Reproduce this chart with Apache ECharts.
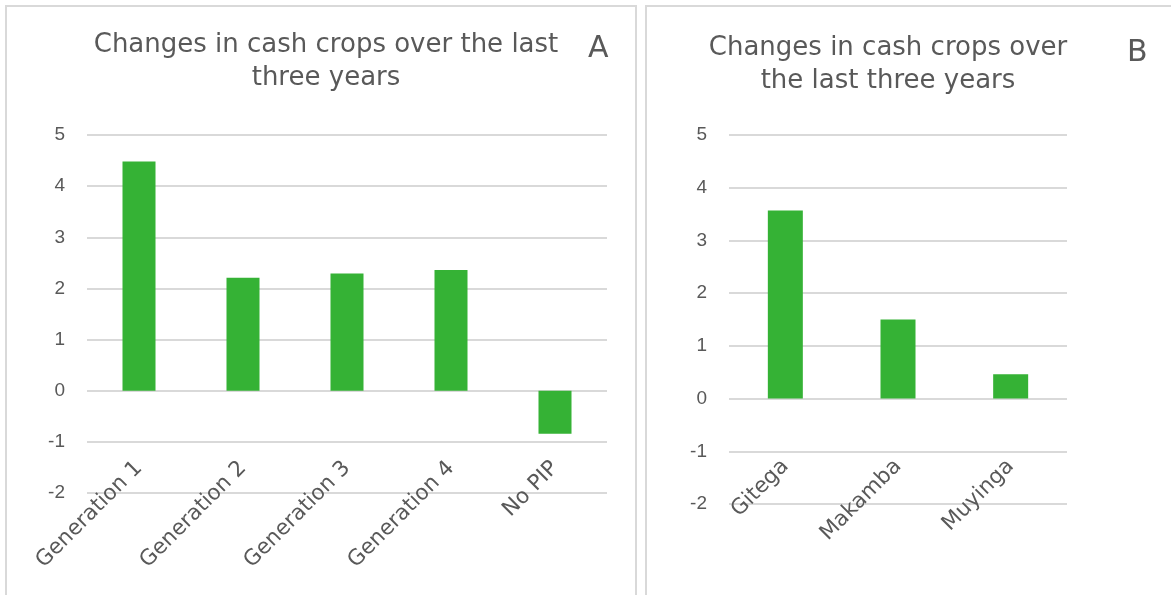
<!DOCTYPE html>
<html>
<head>
<meta charset="utf-8">
<script src="https://cdn.jsdelivr.net/npm/echarts@6/dist/echarts.min.js"></script>
<style>
  html, body { margin: 0; padding: 0; background: #fff; }
  #wrap { position: relative; width: 1171px; height: 595px; overflow: hidden; }
  .panel { position: absolute; border: 2px solid #d9d9d9; box-sizing: border-box; }
  #chart { position: absolute; left: 0; top: 0; width: 1171px; height: 595px; }
</style>
</head>
<body>
<div id="wrap">
  <div class="panel" style="left:5px; top:5px; width:632px; height:620px;"></div>
  <div class="panel" style="left:645px; top:5px; width:560px; height:620px;"></div>
  <div id="chart"></div>
</div>
<script>
// Panel A: change by programme generation
const groupsA = ['Generation 1', 'Generation 2', 'Generation 3', 'Generation 4', 'No PIP'];
const valuesA = [4.48, 2.21, 2.29, 2.36, -0.84];

// Panel B: change by province
const groupsB = ['Gitega', 'Makamba', 'Muyinga'];
const valuesB = [3.57, 1.50, 0.46];

const yTicks = { min: -2, max: 5, interval: 1 };

const textColor = '#595959';
const gridColor = '#d9d9d9';
const barColor = '#35b235';
const font = 'DejaVu Sans';

function xAxisFor(idx, data, margin) {
  return {
    type: 'category', gridIndex: idx, data: data,
    axisLine: { show: false, onZero: false }, axisTick: { show: false },
    axisLabel: { rotate: 45, margin: margin, color: textColor, fontSize: 21.5, fontFamily: font, interval: 0 }
  };
}
function yAxisFor(idx) {
  return {
    type: 'value', gridIndex: idx, min: yTicks.min, max: yTicks.max, interval: yTicks.interval,
    axisLine: { show: false }, axisTick: { show: false },
    axisLabel: { color: textColor, fontSize: 19, fontFamily: 'Liberation Sans', margin: 22 },
    splitLine: { lineStyle: { color: gridColor, width: 2 } }
  };
}

const chart = echarts.init(document.getElementById('chart'), null, { renderer: 'canvas' });
chart.setOption({
  animation: false,
  title: [
    { text: 'Changes in cash crops over the last\nthree years', left: 321, top: 24, textAlign: 'center',
      textStyle: { color: textColor, fontSize: 26, fontWeight: 'normal', fontFamily: font, lineHeight: 33 } },
    { text: 'A', left: 583, top: 29, textStyle: { color: textColor, fontSize: 30, fontWeight: 'normal', fontFamily: font } },
    { text: 'Changes in cash crops over\nthe last three years', left: 883, top: 27, textAlign: 'center',
      textStyle: { color: textColor, fontSize: 26, fontWeight: 'normal', fontFamily: font, lineHeight: 33 } },
    { text: 'B', left: 1122, top: 33, textStyle: { color: textColor, fontSize: 30, fontWeight: 'normal', fontFamily: font } }
  ],
  grid: [
    { left: 87, width: 520, top: 135, height: 358, containLabel: false, outerBoundsMode: 'none' },
    { left: 729, width: 338, top: 135, height: 369, containLabel: false, outerBoundsMode: 'none' }
  ],
  xAxis: [xAxisFor(0, groupsA, -28), xAxisFor(1, groupsB, -41)],
  yAxis: [yAxisFor(0), yAxisFor(1)],
  series: [
    { type: 'bar', xAxisIndex: 0, yAxisIndex: 0, data: valuesA, barWidth: 33,
      itemStyle: { color: barColor } },
    { type: 'bar', xAxisIndex: 1, yAxisIndex: 1, data: valuesB, barWidth: 35,
      itemStyle: { color: barColor } }
  ]
});
</script>
</body>
</html>
